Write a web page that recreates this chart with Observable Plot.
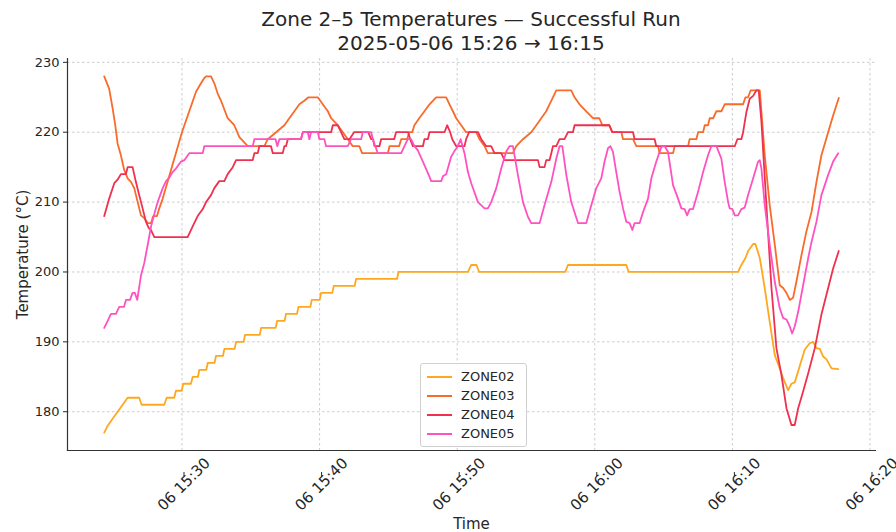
<!DOCTYPE html>
<html>
<head>
<meta charset="utf-8">
<script src="https://cdn.jsdelivr.net/npm/d3@7"></script>
<script src="https://cdn.jsdelivr.net/npm/@observablehq/plot@0.6"></script>
<style>
  html, body { margin: 0; padding: 0; background: #fff; }
  #wrap { position: relative; width: 896px; height: 532px; font-family: "DejaVu Sans", sans-serif; color: #262626; }
  #title { position: absolute; top: 7px; left: 67px; width: 808px; text-align: center; font-size: 20px; line-height: 24px; z-index: 2; }
  #chart { position: absolute; top: 50px; left: 0; }
  #legend { position: absolute; left: 420px; top: 363px; width: 107px; padding: 3px 0 3px 0; box-sizing: border-box;
            background: rgba(255,255,255,0.85); border: 1px solid #d0d0d0; border-radius: 3px; font-size: 13px; z-index: 3; }
  .row { display: flex; align-items: center; height: 19px; }
  .sw { width: 25px; height: 2px; margin-left: 6px; margin-right: 9px; }
</style>
</head>
<body>
<div id="wrap">
  <div id="title"></div>
  <div id="chart"></div>
  <div id="legend"></div>
</div>
<script>
// Times are minutes past 15:00 on 2025-05-06; values in °C.
const titleLines = ["Zone 2–5 Temperatures — Successful Run", "2025-05-06 15:26 → 16:15"];
const zoneNames = ["ZONE02", "ZONE03", "ZONE04", "ZONE05"];
const zoneColors = ["#ffa81e", "#f86b2a", "#f0304f", "#ff52c0"];
const xTickMinutes = [30, 40, 50, 60, 70, 80];
const yTicks = [180, 190, 200, 210, 220, 230];
const xDomainMinutes = [21.68, 80.40];
const yDomain = [174.45, 230.55];

const zone02 = [[24.35,177],[24.60,178],[24.96,179],[25.32,180],[25.69,181],[26.05,182],[26.89,182],[27.07,181],[28.71,181],[28.89,182],[29.44,182],[29.56,183],[29.98,183],[30.09,184],[30.65,184],[30.78,185],[31.16,185],[31.26,186],[31.77,186],[31.87,187],[32.37,187],[32.47,188],[32.98,188],[33.08,189],[33.83,189],[33.93,190],[34.48,190],[34.58,191],[35.65,191],[35.75,192],[36.81,192],[36.91,193],[37.46,193],[37.56,194],[38.36,194],[38.46,195],[39.33,195],[39.43,196],[40.01,196],[40.11,197],[40.93,197],[41.03,198],[42.55,198],[42.65,199],[45.63,199],[45.73,200],[50.78,200],[51.02,201],[51.40,201],[51.60,200],[57.85,200],[58.05,201],[62.29,201],[62.46,200],[70.41,200],[70.65,201],[70.95,202],[71.14,203],[71.51,204],[71.67,204],[71.99,202],[72.35,197.7],[72.71,192.9],[73.08,188.1],[73.44,186.2],[73.69,184.8],[74.05,183.1],[74.29,184],[74.53,184.2],[74.89,186.5],[75.26,188.9],[75.62,189.8],[75.87,190],[76.11,189.1],[76.35,189],[76.60,187.9],[76.84,187.5],[77.20,186.2],[77.69,186.1]];

const zone03 = [[24.35,228],[24.71,226.2],[24.96,223.4],[25.15,221],[25.32,218.4],[25.56,216.7],[25.80,214.6],[26.05,213.4],[26.29,212.9],[26.53,212],[26.78,210],[27.02,208.1],[27.26,207.7],[27.51,207],[27.75,207],[27.91,208],[28.18,208],[28.35,209.1],[28.60,210.5],[30.00,220],[31.02,225.8],[31.38,227],[31.60,227.7],[31.75,228],[32.11,228],[32.35,227],[32.60,225.5],[32.84,224.5],[33.32,222],[33.80,221],[34.17,219.3],[34.78,218],[35.99,218],[36.23,219],[36.84,220],[37.44,221],[37.80,222],[38.17,223],[38.53,224],[38.89,224.5],[39.19,225],[39.87,225],[40.23,224],[40.60,223],[40.84,222],[41.32,221],[41.69,220],[42.05,219],[42.41,218],[42.89,218],[43.09,217],[44.96,217],[45.08,218],[45.78,218],[45.93,219],[46.36,219],[46.51,220],[46.73,220],[46.89,221],[47.24,222],[47.62,223],[47.99,224],[48.47,225],[49.20,225],[49.44,224],[49.69,223],[49.93,222],[50.29,221],[50.65,220],[51.38,220],[51.62,219],[51.99,218],[52.23,217],[54.05,217],[54.29,218],[54.78,219],[55.38,220],[55.75,221],[56.11,222],[56.47,223],[56.71,224],[56.96,225],[57.20,226],[58.29,226],[58.53,225],[58.89,224],[59.38,223],[59.87,222],[60.33,222],[60.55,221],[61.05,221],[61.27,220],[61.93,220],[62.05,219],[62.78,219],[63.02,218],[64.60,218],[64.71,217],[65.69,217],[65.80,218],[66.78,218],[66.89,219],[67.38,219],[67.51,220],[67.87,220],[67.99,221],[68.23,221],[68.35,222],[68.60,222],[68.84,223],[69.20,223],[69.44,224],[70.78,224],[70.95,225],[71.14,225],[71.33,226],[71.99,226],[72.35,216.7],[72.71,209.6],[73.08,203.9],[73.44,198.1],[73.69,197.7],[73.93,197],[74.17,196],[74.41,196.3],[74.65,198.6],[75.02,202.4],[75.38,205.8],[75.75,208.6],[76.11,212.9],[76.47,216.7],[76.96,220],[77.32,222.4],[77.73,224.9]];

const zone04 = [[24.35,208],[24.71,210.5],[25.08,212.7],[25.32,213.2],[25.56,214],[25.93,214],[26.05,215],[26.41,215],[26.65,212.9],[26.89,211],[27.14,209.1],[27.38,207.2],[27.58,206.3],[27.75,206],[27.99,205],[30.41,205],[30.65,206],[30.89,207],[31.14,208],[31.51,209],[31.75,210],[32.11,211],[32.35,212],[32.71,213],[33.08,213],[33.32,214],[33.69,215],[33.93,216],[35.14,216],[35.26,217],[35.51,217],[35.62,218],[36.47,218],[36.60,217],[37.32,217],[37.44,218],[37.56,218],[37.69,219],[38.65,219],[38.78,220],[40.84,220],[40.96,221],[41.32,221],[41.56,220],[41.80,219],[42.17,219],[42.51,220],[43.53,220],[43.75,219],[43.89,219],[43.99,218],[44.35,218],[44.47,219],[45.42,219],[45.56,220],[46.44,220],[46.58,219],[46.78,218],[47.51,218],[47.62,219],[47.87,219],[47.99,220],[49.08,220],[49.27,221],[49.49,220],[49.64,219],[49.93,218],[50.53,218],[50.65,219],[50.87,220],[51.51,220],[51.75,219],[52.11,218],[52.47,218],[52.71,217],[53.20,217],[53.44,216],[55.87,216],[55.99,215],[56.35,215],[56.47,216],[56.71,216],[56.84,217],[56.96,218],[57.20,218],[57.44,219],[57.80,219],[58.05,220],[58.41,220],[58.53,221],[61.05,221],[61.27,220],[62.78,220],[62.89,219],[64.35,219],[64.47,218],[70.17,218],[70.36,219],[70.65,219],[70.78,220],[71.02,222.9],[71.26,224.8],[71.51,225.2],[71.75,226],[71.91,226],[72.11,221.5],[72.47,209.6],[72.84,197.7],[73.20,189.1],[73.56,185.3],[73.93,180.5],[74.29,178.1],[74.53,178.1],[74.78,180.5],[75.14,182.9],[75.51,185.5],[75.99,189.1],[76.47,193.9],[76.96,197.7],[77.32,200.5],[77.73,203]];

const zone05 = [[24.35,192],[24.60,193],[24.84,194],[25.20,194],[25.44,195],[25.78,195],[25.93,196],[26.22,196],[26.41,197],[26.58,197],[26.75,196],[27.02,199.5],[27.26,201.3],[27.51,203.9],[27.75,206.5],[27.99,208.3],[28.23,210],[28.60,212],[28.84,213],[29.08,213.5],[29.32,214.3],[29.56,214.8],[29.93,215.8],[30.17,216],[30.53,217],[31.51,217],[31.62,218],[35.14,218],[35.26,219],[36.80,219],[36.93,218],[37.08,219],[38.65,219],[38.78,220],[39.14,220],[39.26,219],[39.38,220],[39.87,220],[39.99,219],[40.35,219],[40.47,218],[42.05,218],[42.29,219],[43.02,219],[43.14,220],[43.75,220],[43.87,219],[44.23,217],[45.93,217],[46.17,218],[46.41,219],[46.65,219],[46.89,218],[47.14,217.4],[47.62,215.3],[47.99,213.6],[48.11,213],[48.84,213],[48.96,213.7],[49.20,214],[49.56,216.5],[49.80,217.3],[50.05,218],[50.25,219],[50.53,217],[50.78,214.3],[51.02,212.7],[51.51,210],[51.99,209.1],[52.23,209.1],[52.47,210],[52.84,212],[53.20,214.8],[53.56,217.2],[53.80,218],[54.05,218],[54.41,213.9],[54.78,210],[55.14,207.9],[55.38,207],[55.99,207],[56.35,209.6],[56.84,212.9],[57.20,216.2],[57.44,218],[57.64,218],[57.93,213.9],[58.29,210],[58.78,207],[59.38,207],[59.75,209.6],[60.11,212],[60.47,213.4],[60.71,215.8],[60.96,217.7],[61.13,218],[61.32,217.2],[61.56,214.3],[61.80,211.5],[62.05,209.1],[62.29,207.2],[62.53,207],[62.73,206],[62.89,207],[63.26,207],[63.51,208.6],[63.87,210.5],[64.11,213.4],[64.47,215.8],[64.84,217.9],[65.08,218],[65.32,217.2],[65.69,212.4],[66.05,210.5],[66.29,209.1],[66.53,209],[66.71,208.1],[66.89,209],[67.14,209],[67.51,211.5],[67.87,214.3],[68.23,216.7],[68.47,218],[68.84,218],[69.20,216.2],[69.44,212.9],[69.69,210],[69.80,209.1],[70.00,209],[70.17,208.1],[70.41,208.1],[70.65,209],[70.89,209.2],[71.14,211],[71.51,213.4],[71.87,215.8],[71.99,216],[72.11,214.8],[72.35,209.6],[72.71,203.9],[73.08,198.6],[73.44,194.8],[73.69,193.4],[73.93,193.2],[74.17,192.2],[74.34,191.2],[74.53,192.2],[74.78,194.3],[75.14,198.1],[75.51,202],[75.75,204.3],[76.11,207.2],[76.47,211],[76.96,213.9],[77.32,215.8],[77.69,217]];

const base = Date.UTC(2025, 4, 6, 15, 0, 0);
const toDate = m => new Date(base + m * 60000);
const series = [zone02, zone03, zone04, zone05];
const rows = series.flatMap((s, i) => s.map(([t, v]) => ({time: toDate(t), temp: v, zone: zoneNames[i]})));
const xTicks = xTickMinutes.map(toDate);
const fmt = d3.utcFormat("%d %H:%M");

document.getElementById("title").innerHTML = titleLines.map(s => `<div>${s}</div>`).join("");

const chart = Plot.plot({
  width: 896,
  height: 482,
  marginLeft: 67,
  marginRight: 21,
  marginTop: 8,
  marginBottom: 82,
  style: {fontFamily: "DejaVu Sans", fontSize: "12.5px", color: "#262626", background: "transparent", overflow: "visible"},
  x: {type: "utc", domain: xDomainMinutes.map(toDate)},
  y: {domain: yDomain},
  color: {domain: zoneNames, range: zoneColors},
  marks: [
    Plot.gridX(xTicks, {stroke: "#b8b8b8", strokeOpacity: 0.9, strokeDasharray: "2.5,2.5", strokeWidth: 0.8}),
    Plot.gridY(yTicks, {stroke: "#b8b8b8", strokeOpacity: 0.9, strokeDasharray: "2.5,2.5", strokeWidth: 0.8}),
    Plot.line(rows, {x: "time", y: "temp", z: "zone", stroke: "zone", strokeWidth: 1.8, strokeLinejoin: "round"}),
    Plot.frame({anchor: "left", stroke: "#333", strokeWidth: 1.2}),
    Plot.frame({anchor: "bottom", stroke: "#333", strokeWidth: 1.2}),
    Plot.axisY(yTicks, {tickSize: 4, tickPadding: 4, label: null, fontSize: 13}),
    Plot.axisY(yTicks, {tickSize: 0, tickFormat: () => "", label: "Temperature (°C)", labelArrow: "none", labelAnchor: "center", labelOffset: 50, fontSize: 15}),
    Plot.axisX(xTicks, {tickSize: 4, tickFormat: fmt, tickRotate: -45, textAnchor: "middle", dy: 22, dx: 2, fontSize: 15, label: null}),
    Plot.axisX(xTicks, {tickSize: 0, tickFormat: () => "", label: "Time", labelArrow: "none", labelAnchor: "center", labelOffset: 78, fontSize: 15})
  ]
});
document.getElementById("chart").appendChild(chart);

document.getElementById("legend").innerHTML = zoneNames.map((n, i) =>
  `<div class="row"><div class="sw" style="background:${zoneColors[i]}"></div><span>${n}</span></div>`).join("");
</script>
</body>
</html>
